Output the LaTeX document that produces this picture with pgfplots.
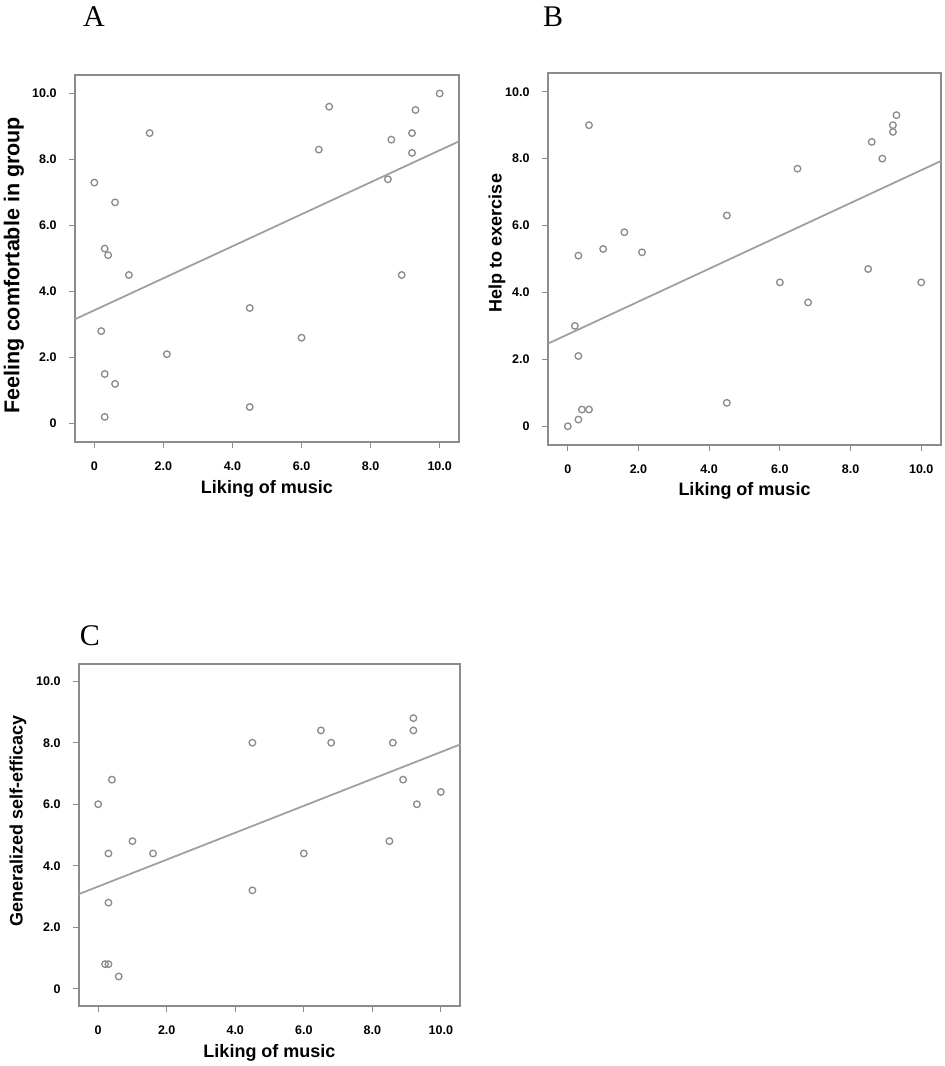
\documentclass[border=0pt]{standalone}
\usepackage{pgfplots}
\pgfplotsset{compat=1.18}
\usepackage{fontspec}
\setmainfont{Liberation Sans}
\newfontfamily\seriffont{Liberation Serif}
\definecolor{axgray}{HTML}{8C8C8C}
\definecolor{mkgray}{HTML}{8A8A8A}
\definecolor{lngray}{HTML}{A0A0A0}

\pgfplotstableread{
x y
0 7.3
0.6 6.7
0.3 5.3
0.4 5.1
1.0 4.5
0.2 2.8
0.3 1.5
0.6 1.2
0.3 0.2
1.6 8.8
2.1 2.1
4.5 3.5
4.5 0.5
6.0 2.6
6.5 8.3
6.8 9.6
8.5 7.4
8.6 8.6
8.9 4.5
9.2 8.8
9.2 8.2
9.3 9.5
10.0 10.0
}\dataA

\pgfplotstableread{
x y
0 0
0.3 0.2
0.4 0.5
0.6 0.5
0.2 3.0
0.3 2.1
0.3 5.1
0.6 9.0
1.0 5.3
1.6 5.8
2.1 5.2
4.5 6.3
4.5 0.7
6.0 4.3
6.5 7.7
6.8 3.7
8.5 4.7
8.6 8.5
8.9 8.0
9.2 9.0
9.2 8.8
9.3 9.3
10.0 4.3
}\dataB

\pgfplotstableread{
x y
0 6.0
0.4 6.8
0.3 4.4
0.3 2.8
0.2 0.8
0.3 0.8
0.6 0.4
1.0 4.8
1.6 4.4
4.5 8.0
4.5 3.2
6.0 4.4
6.5 8.4
6.8 8.0
8.5 4.8
8.6 8.0
8.9 6.8
9.2 8.8
9.2 8.4
9.3 6.0
10.0 6.4
}\dataC

\pgfplotsset{
  panel/.style={
    scale only axis,
    xmin=-0.56, xmax=10.56,
    ymin=-0.56, ymax=10.56,
    xtick={0,2,4,6,8,10},
    ytick={0,2,4,6,8,10},
    xticklabels={0,2.0,4.0,6.0,8.0,10.0},
    yticklabels={0,2.0,4.0,6.0,8.0,10.0},
    /pgf/number format/assume math mode=true,
    tick align=outside,
    xtick pos=bottom, ytick pos=left,
    major tick length=6pt,
    tick style={axgray, line width=1pt},
    axis line style={axgray, line width=1.6pt},
    tick label style={font=\fontsize{12.5}{13}\selectfont\bfseries},
    xticklabel style={yshift=-10pt},
    yticklabel style={xshift=-9pt},
    label style={font=\fontsize{18}{20}\selectfont\bfseries},
    xlabel={Liking of music},
    clip=false,
  },
  pts/.style={only marks, mark=o, mark size=3.3pt, mark options={mkgray, line width=1.3pt}},
  fit/.style={lngray, line width=1.8pt, no marks},
}

\begin{document}
\begin{tikzpicture}[x=1pt,y=1pt]
\path[use as bounding box] (0,0) rectangle (945,1066);

% Panel A
\begin{axis}[panel, at={(75pt,991pt)}, anchor=north west,
  width=384pt, height=367pt,
  ylabel={Feeling comfortable in group},
  xlabel style={at={(axis description cs:0.5,-0.128)}, anchor=center},
  ylabel style={at={(axis description cs:-0.159,0.482)}, anchor=center,
    font=\fontsize{21.5}{24}\selectfont\bfseries},
]
\addplot[pts] table[x=x,y=y] {\dataA};
\addplot[fit] coordinates {(-0.56,3.16) (10.56,8.55)};
\end{axis}
\node[font=\fontsize{30}{30}\selectfont\seriffont] at (94,1049) {A};

% Panel B
\begin{axis}[panel, at={(548pt,993pt)}, anchor=north west,
  width=393pt, height=372pt,
  ylabel={Help to exercise},
  xlabel style={at={(axis description cs:0.5,-0.1235)}, anchor=center},
  ylabel style={at={(axis description cs:-0.13,0.543)}, anchor=center},
]
\addplot[pts] table[x=x,y=y] {\dataB};
\addplot[fit] coordinates {(-0.56,2.47) (10.56,7.93)};
\end{axis}
\node[font=\fontsize{30}{30}\selectfont\seriffont] at (553,1049) {B};

% Panel C
\begin{axis}[panel, at={(79pt,402pt)}, anchor=north west,
  width=381pt, height=342pt,
  ylabel={Generalized self-efficacy},
  xlabel style={at={(axis description cs:0.5,-0.137)}, anchor=center},
  ylabel style={at={(axis description cs:-0.16,0.541)}, anchor=center},
]
\addplot[pts] table[x=x,y=y] {\dataC};
\addplot[fit] coordinates {(-0.56,3.08) (10.58,7.95)};
\end{axis}
\node[font=\fontsize{30}{30}\selectfont\seriffont] at (90,430) {C};

\end{tikzpicture}
\end{document}
